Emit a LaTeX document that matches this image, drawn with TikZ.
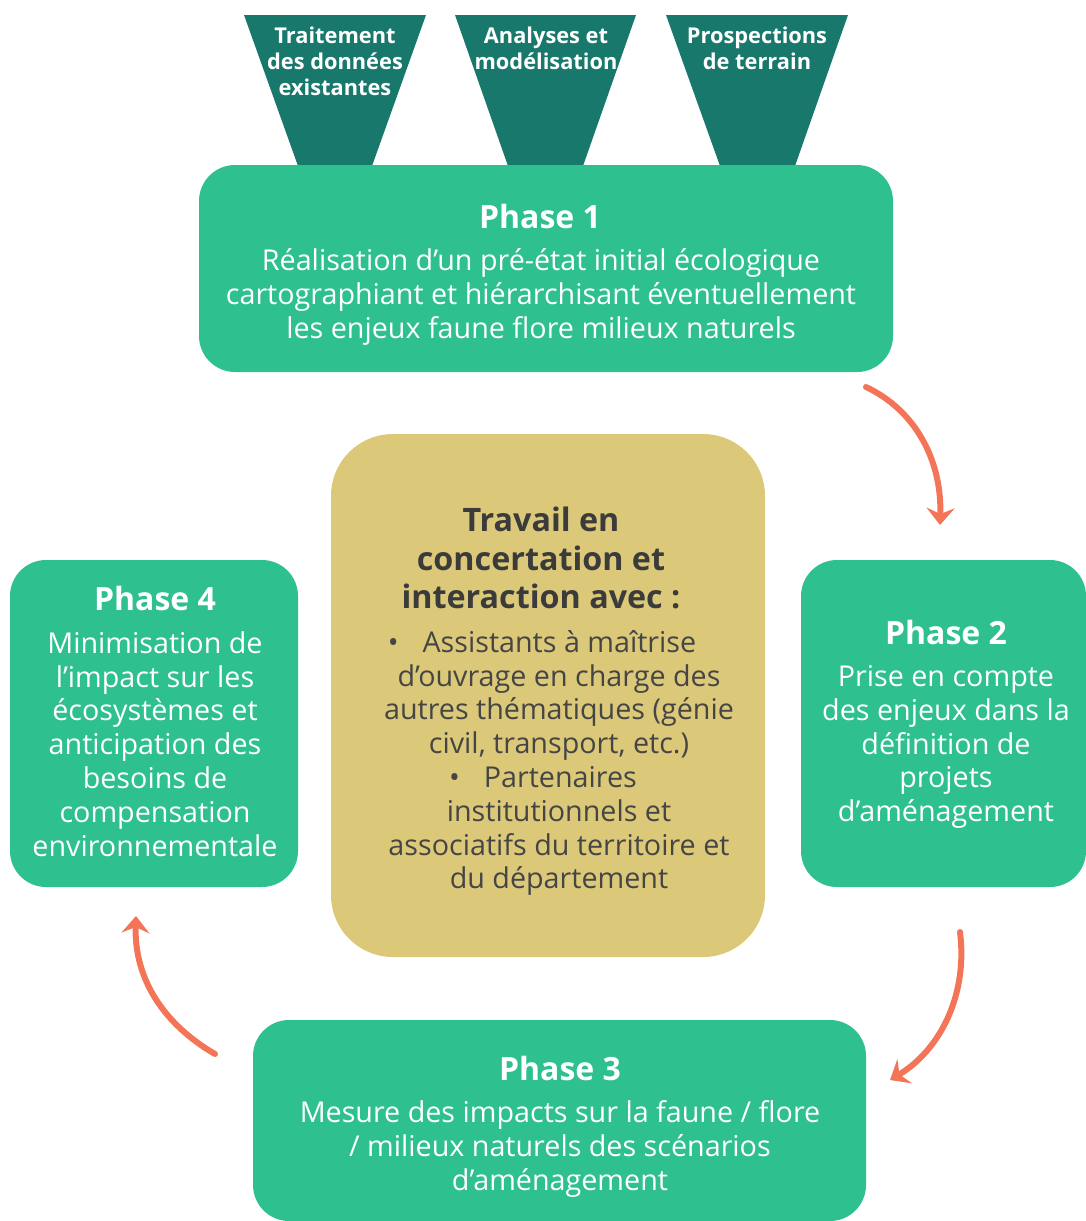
\documentclass[tikz,border=0pt]{standalone}
\usepackage{fontspec}
\setmainfont{Open Sans}
\usetikzlibrary{arrows.meta}
\definecolor{phgreen}{HTML}{2EC08F}
\definecolor{teal}{HTML}{17786B}
\definecolor{khaki}{HTML}{DBC979}
\definecolor{darktxt}{HTML}{3B3B3B}
\definecolor{bodytxt}{HTML}{454545}
\definecolor{coral}{HTML}{F47458}
\tikzset{
  phasebox/.style={fill=phgreen, rounded corners=36pt},
  centerbox/.style={fill=khaki, rounded corners=62pt},
  funnel/.style={fill=teal},
  funneltxt/.style={text=white, align=center, inner sep=0pt, font=\fontsize{21.8}{26}\selectfont\bfseries},
  phtitle/.style={text=white, inner sep=0pt, font=\fontsize{32}{36}\selectfont\bfseries},
  phbody/.style={text=white, align=center, inner sep=0pt, font=\fontsize{28.7}{33.8}\selectfont},
  cycarrow/.style={draw=coral, line width=6pt, line cap=round, -{Stealth[length=17pt,width=28pt,inset=6pt]}}
}
\begin{document}
\begin{tikzpicture}[x=1pt,y=-1pt]
\useasboundingbox (0,0) rectangle (1086,1221);
% funnels
\path[funnel] (244,15) -- (426,15) -- (372,166) -- (298,166) -- cycle;
\path[funnel] (455,15) -- (636,15) -- (583,166) -- (508,166) -- cycle;
\path[funnel] (666,15) -- (848,15) -- (795,166) -- (720,166) -- cycle;
\node[funneltxt] (f1) at (335,61) {Traitement\\des données\\existantes};
\node[funneltxt] (f2) at (546,48) {Analyses et\\modélisation};
\node[funneltxt] (f3) at (757,48) {Prospections\\de terrain};
% phase boxes
\path[phasebox] (199,165) rectangle (893,372);
\path[phasebox] (801,560) rectangle (1086,887);
\path[phasebox] (253,1020) rectangle (866,1221);
\path[phasebox] (10,560) rectangle (298,887);
\path[centerbox] (331,434) rectangle (765,957);
% phase 1
\node[phtitle] (p1t) at (540,216) {Phase 1};
\node[phbody] (p1b) at (541,297) {Réalisation d’un pré-état initial écologique\\cartographiant et hiérarchisant éventuellement\\les enjeux faune flore milieux naturels};
% phase 2
\node[phtitle] (p2t) at (946,632) {Phase 2};
\node[phbody] (p2b) at (946,747) {Prise en compte\\des enjeux dans la\\définition de\\projets\\d’aménagement};
% phase 3
\node[phtitle] (p3t) at (560,1068) {Phase 3};
\node[phbody] (p3b) at (560,1149) {Mesure des impacts sur la faune / flore\\/ milieux naturels des scénarios\\d’aménagement};
% phase 4
\node[phtitle] (p4t) at (155,598) {Phase 4};
\node[phbody] (p4b) at (155,744) {Minimisation de\\l’impact sur les\\écosystèmes et\\anticipation des\\besoins de\\compensation\\environnementale};
% center
\node[text=darktxt, align=center, inner sep=0pt, font=\fontsize{32.3}{38.5}\selectfont\bfseries] (ct) at (541,558) {Travail en\\concertation et\\interaction avec :};
\node[text=bodytxt, align=center, inner sep=0pt, font=\fontsize{28.7}{33.8}\selectfont] (cb) at (559,763)
 {•\hspace{24pt}Assistants à maîtrise\rule{34pt}{0pt}\\d’ouvrage en charge des\\autres thématiques (génie\\civil, transport, etc.)\\•\hspace{24pt}Partenaires\rule{32pt}{0pt}\\institutionnels et\\associatifs du territoire et\\du département};
% arrows
\coordinate (a1s) at (866,387);
\coordinate (a1e) at (940,525);
\coordinate (a2s) at (960,932);
\coordinate (a2e) at (890,1080);
\coordinate (a3s) at (215,1054);
\coordinate (a3e) at (136,916);
\draw[cycarrow] (a1s) .. controls (915,410) and (942,460) .. (a1e);
\draw[cycarrow] (a2s) .. controls (968,995) and (940,1050) .. (a2e);
\draw[cycarrow] (a3s) .. controls (165,1025) and (134,980) .. (a3e);
\end{tikzpicture}
\end{document}
